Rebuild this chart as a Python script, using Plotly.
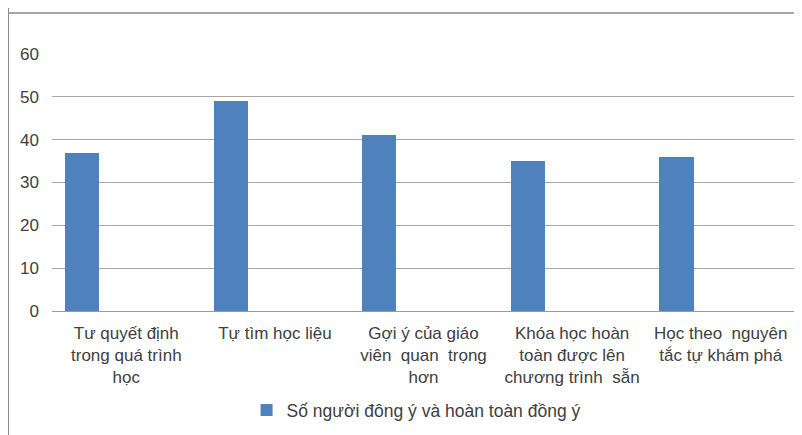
import plotly.graph_objects as go

categories = [
    "Tư quyết định<br>trong quá trình<br>học",
    "Tự tìm học liệu",
    "Gợi ý của giáo<br>viên  quan  trọng<br>hơn",
    "Khóa học hoàn<br>toàn được lên<br>chương trình  sẵn",
    "Học theo  nguyên<br>tắc tự khám phá",
]
values = [37, 49, 41, 35, 36]
series_name = "Số người đông ý và hoàn toàn đồng ý"
y_ticks = [0, 10, 20, 30, 40, 50, 60]

# page has an 8px body margin; figure coordinates are page - 8
OFF = 8
W, H = 794, 427
L, R, T, B = 52 - OFF, 7, 54 - OFF, 124
pw = W - L - R
ph = H - T - B

def px_x(x):
    return (x - OFF - L) / pw

def px_y(y):
    return (H - B - (y - OFF)) / ph

fig = go.Figure()
fig.add_trace(go.Bar(
    x=categories, y=values, name=series_name,
    marker=dict(color="#4F81BD", line=dict(width=0)),
    width=0.23, offset=-0.413,
    showlegend=True,
))

fig.update_layout(
    width=W, height=H,
    margin=dict(l=L, r=R, t=T, b=B),
    paper_bgcolor="white", plot_bgcolor="white",
    font=dict(family="Liberation Sans, Arial, sans-serif", size=17, color="#404040"),
    xaxis=dict(
        type="category", showgrid=False, zeroline=False,
        showline=True, linecolor="#9a9a9a", linewidth=1.3,
        ticks="", tickfont=dict(size=17, color="#404040"),
        tickangle=0, range=[-0.5, 4.5], ticklabelstandoff=6,
    ),
    yaxis=dict(
        range=[0, 60], tickvals=y_ticks, showgrid=True,
        gridcolor="#a6a6a6", gridwidth=1.3, zeroline=False,
        showline=False, ticks="", ticklabelstandoff=12,
        tickfont=dict(size=17, color="#404040"),
    ),
    legend=dict(
        orientation="h", x=0.49, xanchor="center", y=px_y(410), yanchor="middle",
        font=dict(size=17.5, color="#404040"), bgcolor="rgba(0,0,0,0)",
        itemwidth=30,
    ),
    bargap=0,
    shapes=[
        dict(type="line", xref="paper", yref="paper",
             x0=px_x(8), x1=px_x(802), y0=px_y(13), y1=px_y(13),
             line=dict(color="#a6a6a6", width=2)),
        dict(type="line", xref="paper", yref="paper",
             x0=px_x(8.5), x1=px_x(8.5), y0=px_y(8), y1=px_y(435),
             line=dict(color="#8c8c8c", width=1)),
    ],
)

fig.write_html("out.html")
